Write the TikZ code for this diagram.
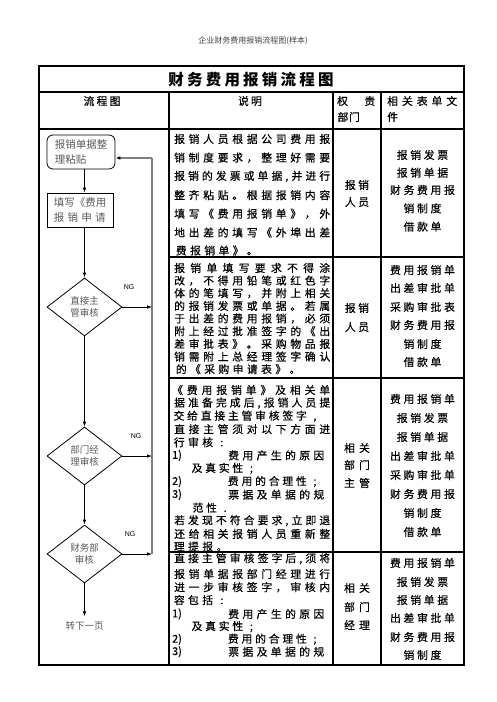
\documentclass[tikz,border=0pt]{standalone}
\usepackage{fontspec}
\setmainfont{Noto Sans CJK SC}
\newfontfamily\dfont[FakeBold=0.5]{Noto Sans CJK SC}
\newfontfamily\ngfont{Liberation Sans}
\usetikzlibrary{shapes.geometric,arrows.meta}
\makeatletter
\newcommand\jl[2]{\hbox to #1{\jl@a#2\relax}}
\def\jl@a#1{#1\jl@b}
\def\jl@b#1{\ifx\relax#1\else\hfil#1\expandafter\jl@b\fi}
\newcommand\fp[2]{\def\fp@w{#1}\fp@a#2\relax}
\def\fp@a#1{\ifx\relax#1\else\hbox to \fp@w{\hss#1\hss}\expandafter\fp@a\fi}
\makeatother
\begin{document}
\begin{tikzpicture}[x=1pt,y=-1pt,
  tbl/.style={line width=1.1pt},
  desc/.style={anchor=west,inner sep=0pt,font=\dfont\fontsize{10.8}{11}\selectfont},
  cen/.style={anchor=center,inner sep=0pt,font=\dfont\fontsize{10.8}{11}\selectfont},
  flowtxt/.style={text=black!65,font=\fontsize{10.5}{15}\selectfont},
  flowbox/.style={draw,line width=0.8pt,flowtxt,inner sep=0pt,align=left},
  dia/.style={draw,diamond,line width=0.8pt,text=black!65,inner sep=0pt,aspect=1.3,
    minimum width=75pt,minimum height=58pt,align=center,font=\fontsize{9.5}{12.5}\selectfont},
  arr/.style={-{Latex[length=5pt,width=3.6pt]},line width=0.8pt},
  ret/.style={draw=black!50,line width=1.8pt},
  ng/.style={inner sep=0pt,font=\ngfont\fontsize{7}{7}\selectfont}]
\useasboundingbox (0,0) rectangle (496,702);
% page header
\node[inner sep=0pt,text=black!75,font=\fontsize{8}{8}\selectfont] (ph) at (253,41) {企业财务费用报销流程图(样本)};
% table frame
\draw[tbl] (39,66) rectangle (464,665);
\draw[tbl] (39,92) -- (464,92);
\draw[tbl] (39,129) -- (464,129);
\draw[tbl] (169,257) -- (464,257);
\draw[tbl] (169,378) -- (464,378);
\draw[tbl] (169,552) -- (464,552);
\draw[tbl] (169,92) -- (169,665);
\draw[tbl] (333,92) -- (333,665);
\draw[tbl] (381,92) -- (381,665);
% title
\node[cen,font=\bfseries\fontsize{15.5}{15.5}\selectfont] (title) at (251,80) {\fp{18.7pt}{财务费用报销流程图}};
% header
\node[cen] (h1) at (102,101) {\fp{13pt}{流程图}};
\node[cen] (h2) at (250,101) {\fp{13pt}{说明}};
\node[desc] (h3a) at (337,101) {\jl{38pt}{权责}};
\node[desc] (h3b) at (337,117) {\fp{11.5pt}{部门}};
\node[desc] (h4a) at (387,101) {\jl{70pt}{相关表单文}};
\node[desc] (h4b) at (387,117) {件};
% row 1 description
\node[desc] (a1) at (174,139) {\jl{156pt}{报销人员根据公司费用报}};
\node[desc] (a2) at (174,157.7) {\jl{156pt}{销制度要求，整理好需要}};
\node[desc] (a3) at (174,176.4) {\jl{156pt}{报销的发票或单据,并进行}};
\node[desc] (a4) at (174,195.1) {\jl{156pt}{整齐粘贴。根据报销内容}};
\node[desc] (a5) at (174,213.8) {\jl{156pt}{填写《费用报销单》，外}};
\node[desc] (a6) at (174,232.5) {\jl{156pt}{地出差的填写《外埠出差}};
\node[desc] (a7) at (174,250.5) {\fp{14.2pt}{费报销单》。}};
% row 2 description
\node[desc] (b1) at (174,268) {\jl{156pt}{报销单填写要求不得涂}};
\node[desc] (b2) at (174,280.65) {\jl{156pt}{改，不得用铅笔或红色字}};
\node[desc] (b3) at (174,293.3) {\jl{156pt}{体的笔填写，并附上相关}};
\node[desc] (b4) at (174,305.95) {\jl{156pt}{的报销发票或单据。若属}};
\node[desc] (b5) at (174,318.6) {\jl{156pt}{于出差的费用报销，必须}};
\node[desc] (b6) at (174,331.25) {\jl{156pt}{附上经过批准签字的《出}};
\node[desc] (b7) at (174,343.9) {\jl{156pt}{差审批表》。采购物品报}};
\node[desc] (b8) at (174,356.55) {\jl{156pt}{销需附上总经理签字确认}};
\node[desc] (b9) at (174,369.2) {\fp{14.2pt}{的《采购申请表》。}};
% row 3 description
\node[desc] (c1) at (172,390) {\jl{158pt}{《费用报销单》及相关单}};
\node[desc] (c2) at (174,403.1) {\jl{156pt}{据准备完成后,报销人员提}};
\node[desc] (c3) at (172,416.2) {\fp{13.6pt}{交给直接主管审核签字,}};
\node[desc] (c4) at (174,429.2) {\jl{156pt}{直接主管须对以下方面进}};
\node[desc] (c5) at (172,442.3) {\fp{14.2pt}{行审核:}};
\node[desc] (c6a) at (172,455.4) {1)};
\node[desc] (c6b) at (226.4,455.4) {\fp{14.2pt}{费用产生的原因}};
\node[desc] (c7) at (190,468.5) {\fp{13.6pt}{及真实性;}};
\node[desc] (c8a) at (172,481.6) {2)};
\node[desc] (c8b) at (226.4,481.6) {\fp{13.6pt}{费用的合理性;}};
\node[desc] (c9a) at (172,494.6) {3)};
\node[desc] (c9b) at (226.4,494.6) {\fp{14.2pt}{票据及单据的规}};
\node[desc] (c10) at (191,507.7) {\fp{13.6pt}{范性.}};
\node[desc] (c11) at (174,520.8) {\jl{156pt}{若发现不符合要求,立即退}};
\node[desc] (c12) at (174,533.9) {\jl{156pt}{还给相关报销人员重新整}};
\node[desc] (c13) at (172,546.5) {\fp{14.2pt}{理提报。}};
% row 4 description
\node[desc] (e1) at (174,558.8) {\jl{156pt}{直接主管审核签字后,须将}};
\node[desc] (e2) at (174,574) {\jl{156pt}{报销单据报部门经理进行}};
\node[desc] (e3) at (174,587.3) {\jl{156pt}{进一步审核签字，审核内}};
\node[desc] (e4) at (172,600) {\fp{14.2pt}{容包括:}};
\node[desc] (e5a) at (172,614) {1)};
\node[desc] (e5b) at (226.4,614) {\fp{14.2pt}{费用产生的原因}};
\node[desc] (e6) at (190,626.7) {\fp{13.6pt}{及真实性;}};
\node[desc] (e7a) at (172,639.3) {2)};
\node[desc] (e7b) at (226.4,639.3) {\fp{13.6pt}{费用的合理性;}};
\node[desc] (e8a) at (172,651.7) {3)};
\node[desc] (e8b) at (226.4,651.7) {\fp{14.2pt}{票据及单据的规}};
% responsible department
\node[cen] (q1a) at (357,185) {\fp{13.3pt}{报销}};
\node[cen] (q1b) at (357,202) {\fp{13.3pt}{人员}};
\node[cen] (q2a) at (357,308) {\fp{13.3pt}{报销}};
\node[cen] (q2b) at (357,327) {\fp{13.3pt}{人员}};
\node[cen] (q3a) at (357,448) {\fp{15pt}{相关}};
\node[cen] (q3b) at (357,465) {\fp{15pt}{部门}};
\node[cen] (q3c) at (357,483) {\fp{15pt}{主管}};
\node[cen] (q4a) at (357,588) {\fp{15pt}{相关}};
\node[cen] (q4b) at (357,607) {\fp{15pt}{部门}};
\node[cen] (q4c) at (357,625) {\fp{15pt}{经理}};
% forms
\node[cen] (f11) at (422.5,155) {\fp{13.5pt}{报销发票}};
\node[cen] (f12) at (422.5,172.7) {\fp{13.5pt}{报销单据}};
\node[cen] (f13) at (422.5,190) {\fp{13.5pt}{财务费用报}};
\node[cen] (f14) at (422.5,208.3) {\fp{13.5pt}{销制度}};
\node[cen] (f15) at (422.5,226.7) {\fp{13.5pt}{借款单}};
\node[cen] (f21) at (422.5,270) {\fp{13.5pt}{费用报销单}};
\node[cen] (f22) at (422.5,288) {\fp{13.5pt}{出差审批单}};
\node[cen] (f23) at (422.5,307) {\fp{13.5pt}{采购审批表}};
\node[cen] (f24) at (422.5,325) {\fp{13.5pt}{财务费用报}};
\node[cen] (f25) at (422.5,344) {\fp{13.5pt}{销制度}};
\node[cen] (f26) at (422.5,362) {\fp{13.5pt}{借款单}};
\node[cen] (f31) at (422.5,399) {\fp{13.5pt}{费用报销单}};
\node[cen] (f32) at (422.5,418) {\fp{13.5pt}{报销发票}};
\node[cen] (f33) at (422.5,437) {\fp{13.5pt}{报销单据}};
\node[cen] (f34) at (422.5,456) {\fp{13.5pt}{出差审批单}};
\node[cen] (f35) at (422.5,475) {\fp{13.5pt}{采购审批单}};
\node[cen] (f36) at (422.5,494) {\fp{13.5pt}{财务费用报}};
\node[cen] (f37) at (422.5,513) {\fp{13.5pt}{销制度}};
\node[cen] (f38) at (422.5,532) {\fp{13.5pt}{借款单}};
\node[cen] (f41) at (422.5,563) {\fp{13.5pt}{费用报销单}};
\node[cen] (f42) at (422.5,582) {\fp{13.5pt}{报销发票}};
\node[cen] (f43) at (422.5,600) {\fp{13.5pt}{报销单据}};
\node[cen] (f44) at (422.5,618) {\fp{13.5pt}{出差审批单}};
\node[cen] (f45) at (422.5,637) {\fp{13.5pt}{财务费用报}};
\node[cen] (f46) at (422.5,655) {\fp{13.5pt}{销制度}};
% flowchart
\node[flowbox,rounded corners=6pt,minimum width=68pt,minimum height=34pt] (box1) at (81,152) {报销单据整\\理粘贴};
\node[flowbox,minimum width=66pt,minimum height=34pt] (box2) at (80,210) {填写《费用\\\jl{52pt}{报销申请}};
\node[dia] (d1) at (84.5,307) {直接主\\管审核};
\node[dia] (d2) at (84.5,456) {部门经\\理审核};
\node[dia] (d3) at (84.5,554) {财务部\\审核};
\node[inner sep=0pt,text=black!65,font=\fontsize{9.5}{9.5}\selectfont] (nx) at (84.5,626) {转下一页};
\node[ng] (ng1) at (129,287) {NG};
\node[ng] (ng2) at (136,436) {NG};
\node[ng] (ng3) at (130,534) {NG};
\coordinate (g1) at (152,307);
\coordinate (g2) at (152,456);
\coordinate (g3) at (152,554);
\coordinate (rt) at (152,158);
\draw[arr] (box1.south -| d1.center) -- (box2.north -| d1.center);
\draw[arr] (box2.south -| d1.center) -- (d1.north);
\draw[arr] (d1.south) -- (d2.north);
\draw[arr] (d2.south) -- (d3.north);
\draw[arr,shorten >=5pt] (d3.south) -- (nx.north);
\draw[ret] (g3) -- (rt);
\draw[ret,-{Latex[length=5pt,width=3.6pt,color=black]}] (rt) -- (box1.east |- rt);
\draw[arr] (d1.east) -- (g1);
\draw[arr] (d2.east) -- (g2);
\draw[arr] (d3.east) -- (g3);
\end{tikzpicture}
\end{document}
